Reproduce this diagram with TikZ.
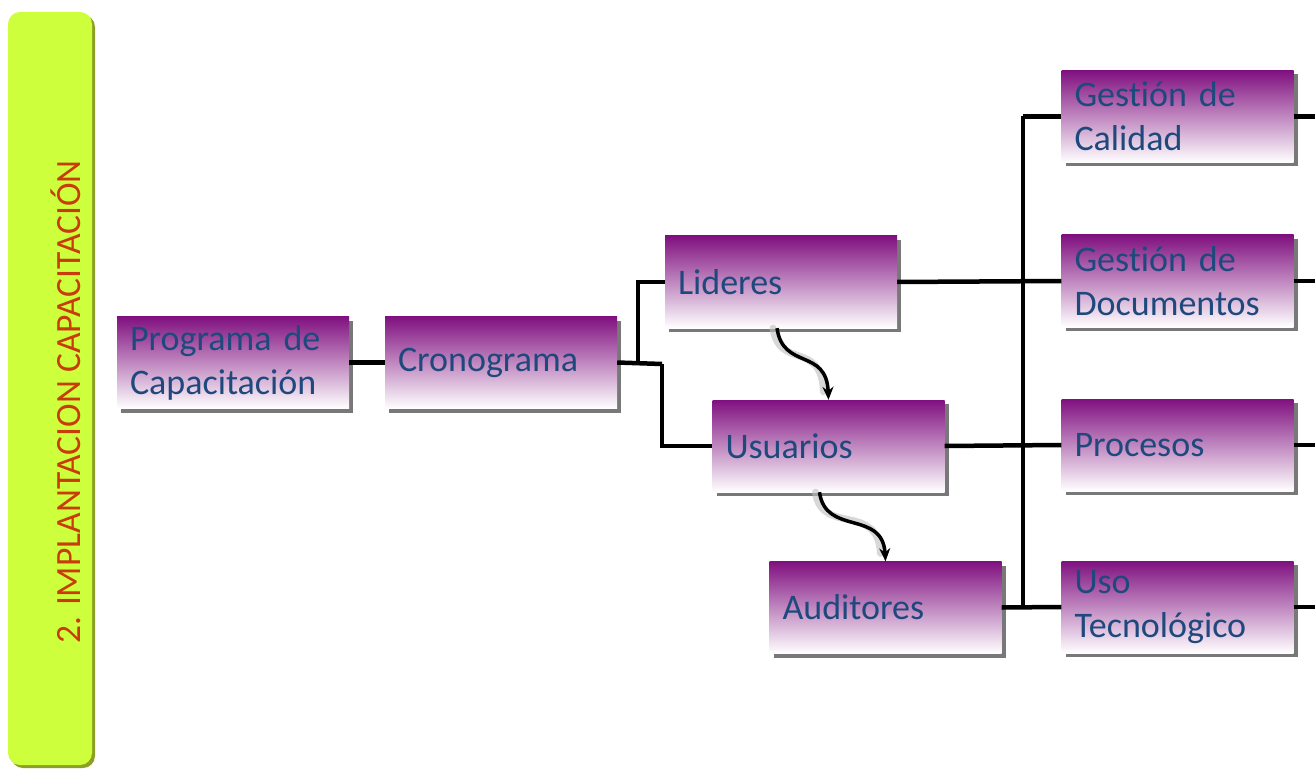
\documentclass[tikz,border=0pt]{standalone}
\usepackage{fontspec}
\setmainfont{Carlito}[Ligatures=NoCommon]
\usetikzlibrary{arrows.meta,shadows}

\definecolor{barGreen}{RGB}{206,255,60}
\definecolor{barShade}{RGB}{140,160,40}
\definecolor{titleRed}{RGB}{200,60,10}
\definecolor{boxPurple}{RGB}{128,16,128}
\definecolor{boxMid}{RGB}{226,206,228}
\definecolor{boxText}{RGB}{31,73,125}
\definecolor{boxShade}{RGB}{120,120,120}

\tikzset{
  stepbox/.style={
    rectangle, minimum width=232pt, minimum height=92pt,
    text width=206pt, inner xsep=13pt, inner ysep=0pt, align=left,
    top color=boxPurple, middle color=boxMid, bottom color=white,
    text=boxText, font=\fontsize{36}{44}\selectfont,
    drop shadow={shadow xshift=4pt, shadow yshift=-4pt, fill=boxShade, opacity=1}
  },
  link/.style={line width=4.5pt, black},
  thinlink/.style={line width=3.8pt, black},
  wave/.style={line width=3.5pt, black, -{Stealth[length=13pt,width=11pt]}},
  waveshade/.style={line width=7pt, black!25, opacity=0.6, line cap=round}
}

\begin{document}
\begin{tikzpicture}[x=1pt, y=-1pt]
  \useasboundingbox (0,0) rectangle (1315,770);
  \fill[white] (0,0) rectangle (1315,770);

  % side banner
  \fill[barShade, rounded corners=12pt] (11,15) rectangle (95,768);
  \fill[barGreen, rounded corners=12pt] (8,12) rectangle (92,765);
  \node[rotate=90, text=titleRed, font=\fontsize{35.5}{40}\selectfont] (title) at (66,402)
    {2. IMPLANTACION CAPACITACIÓN};

  % boxes
  \node[stepbox] (prog)  at (233,362.5)  {Programa de\\Capacitación};
  \node[stepbox] (crono) at (501,362.5)  {Cronograma};
  \node[stepbox] (lid)   at (781,282)    {Lideres};
  \node[stepbox] (usu)   at (828.5,446)  {Usuarios};
  \node[stepbox] (aud)   at (885.5,607.5){Auditores};
  \node[stepbox] (gcal)  at (1177.5,116.5){Gestión de\\Calidad};
  \node[stepbox] (gdoc)  at (1177.5,281) {Gestión de\\Documentos};
  \node[stepbox] (proc)  at (1177.5,445) {Procesos};
  \node[stepbox] (uso)   at (1177.5,607) {Uso\\Tecnológico};

  % junction points
  \coordinate (jc) at (662,364);
  \coordinate (jl) at (638,364);
  \coordinate (bus) at (1023,0);
  \coordinate (ecal) at (1315,116.5);
  \coordinate (edoc) at (1315,281);
  \coordinate (eproc) at (1315,445);
  \coordinate (euso) at (1315,607);

  % connectors
  \draw[link] (prog.east) -- (crono.west);
  \draw[link] (crono.east) -- (jc);
  \draw[thinlink] (jl) |- (lid.west);
  \draw[thinlink] (jc) |- (usu.west);

  \draw[link] (bus |- gcal.west) -- (bus |- aud.east);
  \draw[link] (bus |- gcal.west) -- (gcal.west);
  \draw[link] (lid.east) -- (gdoc.west);
  \draw[link] (usu.east) -- (proc.west);
  \draw[link] (aud.east) -- (uso.west);

  \draw[link] (gcal.east) -- (ecal);
  \draw[link] (gdoc.east) -- (edoc);
  \draw[link] (proc.east) -- (eproc);
  \draw[link] (uso.east) -- (euso);

  % wavy arrows between the roles
  \draw[waveshade] ([xshift=-8pt]lid.south) .. controls +(6,42) and +(-2,-52) .. ([xshift=-5pt,yshift=8pt]usu.north);
  \draw[wave] ([xshift=-4pt]lid.south) .. controls +(6,42) and +(-2,-52) .. (usu.north);
  \draw[waveshade] ([xshift=-13pt]usu.south) .. controls +(6,44) and +(-3,-52) .. ([xshift=-5pt,yshift=8pt]aud.north);
  \draw[wave] ([xshift=-9pt]usu.south) .. controls +(6,44) and +(-3,-52) .. (aud.north);
\end{tikzpicture}
\end{document}
